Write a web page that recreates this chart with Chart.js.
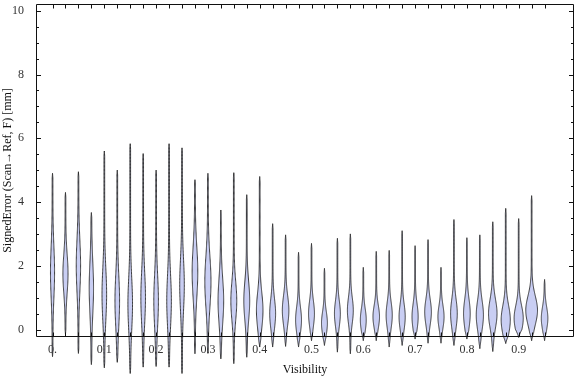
<!DOCTYPE html>
<html><head><meta charset="utf-8">
<script src="https://cdn.jsdelivr.net/npm/chart.js@4.4.0/dist/chart.umd.min.js"></script>
<style>html,body{margin:0;padding:0;background:#fff}canvas{display:block}</style>
</head><body>
<canvas id="c" width="576" height="377"></canvas>
<script>
// Visibility bins (violin positions)
const categories = [0,0.025,0.05,0.075,0.1,0.125,0.15,0.175,0.2,0.225,0.25,0.275,0.3,0.325,0.35,0.375,0.4,0.425,0.45,0.475,0.5,0.525,0.55,0.575,0.6,0.625,0.65,0.675,0.7,0.725,0.75,0.775,0.8,0.825,0.85,0.875,0.9,0.925,0.95];
// min of signed error per bin
const lows  = [-0.85,-0.15,-0.75,-1.1,-1.2,-1.03,-1.38,-1.18,-1.16,-1.18,-1.38,-0.76,-0.75,-0.92,-1.07,-0.87,-0.55,-0.55,-0.53,-0.55,-0.35,-0.5,-0.71,-0.76,-0.35,-0.35,-0.55,-0.5,-0.3,-0.43,-0.43,-0.5,-0.3,-0.6,-0.69,-0.44,-0.25,-0.35,-0.35];
// max of signed error per bin
const highs = [4.9,4.3,4.95,3.67,5.6,5.0,5.83,5.52,5.0,5.83,5.7,4.7,4.9,3.75,4.92,4.23,4.8,3.32,2.97,2.42,2.7,1.92,2.86,3.0,1.95,2.45,2.48,3.1,2.63,2.82,1.95,3.45,2.88,2.97,3.38,3.8,3.48,4.2,1.57];
// location of density peak
const modes = [1.8,1.75,2.0,1.3,1.1,0.9,0.8,1.0,0.9,0.9,1.4,1.8,1.5,0.9,0.9,0.9,0.6,0.5,0.6,0.3,0.5,0.2,0.5,0.6,0.3,0.4,0.45,0.4,0.4,0.55,0.4,0.5,0.5,0.45,0.5,0.3,0.35,0.6,0.35];
// spread of the main body
const spreads = [0.8,0.6,0.8,0.8,0.8,0.8,0.8,0.8,0.8,0.8,0.8,0.8,0.8,0.7,0.6,0.6,0.55,0.45,0.45,0.4,0.4,0.35,0.4,0.4,0.35,0.35,0.4,0.4,0.4,0.4,0.35,0.45,0.45,0.45,0.45,0.45,0.4,0.45,0.35];
// relative peak density
const peaks = [0.26,0.34,0.28,0.28,0.3,0.3,0.3,0.3,0.3,0.3,0.3,0.38,0.42,0.38,0.4,0.4,0.45,0.4,0.45,0.4,0.4,0.4,0.4,0.4,0.4,0.45,0.42,0.42,0.42,0.46,0.42,0.46,0.46,0.5,0.6,0.65,0.65,0.85,0.45];
const xTickValues = [0,0.1,0.2,0.3,0.4,0.5,0.6,0.7,0.8,0.9];
const yTickValues = [0,2,4,6,8,10];

const FONT = {family: "'Liberation Serif', 'Times New Roman', serif", size: 12};

const violinPlugin = {
  id: 'violins',
  afterDatasetsDraw(chart) {
    const ctx = chart.ctx, xs = chart.scales.x, ys = chart.scales.y;
    const halfSlot = 0.0125, tail = 0.0007;
    ctx.save();
    categories.forEach((c, i) => {
      const lo = lows[i], hi = highs[i], m = modes[i], s = spreads[i], p = peaks[i];
      const cx = xs.getPixelForValue(c);
      const N = 160, left = [], right = [];
      for (let k = 0; k <= N; k++) {
        const y = lo + (hi - lo) * k / N;
        const taper = Math.min(1, (y - lo) / 0.15, (hi - y) / 0.15);
        const g = Math.exp(-0.5 * Math.pow((y - m) / s, 2));
        const w = (p * halfSlot * g) * Math.min(1, (y - lo) / 0.25, (hi - y) / 0.25) + tail * taper;
        const dx = xs.getPixelForValue(c + w) - cx;
        const py = ys.getPixelForValue(y);
        left.push([cx - dx, py]);
        right.push([cx + dx, py]);
      }
      ctx.beginPath();
      left.forEach((pt, k) => k ? ctx.lineTo(pt[0], pt[1]) : ctx.moveTo(pt[0], pt[1]));
      for (let k = right.length - 1; k >= 0; k--) ctx.lineTo(right[k][0], right[k][1]);
      ctx.closePath();
      ctx.fillStyle = '#c9cef3';
      ctx.fill();
      ctx.lineWidth = 1;
      ctx.strokeStyle = 'rgba(30,30,30,0.85)';
      ctx.stroke();
    });
    ctx.restore();
  },
  afterDraw(chart) {
    const ctx = chart.ctx, a = chart.chartArea, xs = chart.scales.x, ys = chart.scales.y;
    ctx.save();
    ctx.strokeStyle = '#111';
    ctx.lineWidth = 1;
    const L = Math.round(a.left) + 0.5, R = Math.round(a.right) - 0.5, T = Math.round(a.top) + 0.5, B = Math.round(a.bottom) - 0.5;
    ctx.beginPath();
    ctx.rect(L, T, R - L, B - T);
    categories.forEach(c => {
      const x = Math.round(xs.getPixelForValue(c)) + 0.5;
      ctx.moveTo(x, B); ctx.lineTo(x, B - 4);
      ctx.moveTo(x, T); ctx.lineTo(x, T + 4);
    });
    for (let v = 0; v <= 10.001; v += 0.5) {
      const y = Math.round(ys.getPixelForValue(v)) + 0.5;
      const len = yTickValues.some(t => Math.abs(t - v) < 1e-6) ? 4.5 : 2.5;
      ctx.moveTo(L, y); ctx.lineTo(L + len, y);
      ctx.moveTo(R, y); ctx.lineTo(R - len, y);
    }
    ctx.stroke();
    ctx.restore();
  }
};

new Chart(document.getElementById('c'), {
  type: 'scatter',
  data: {datasets: [{data: categories.map((c, i) => ({x: c, y: highs[i]})), pointRadius: 0, showLine: false}]},
  options: {
    responsive: false,
    devicePixelRatio: 1,
    animation: false,
    layout: {padding: {top: 4, right: 2, left: 0, bottom: 0}},
    plugins: {legend: {display: false}, tooltip: {enabled: false}},
    scales: {
      x: {
        type: 'linear', min: -0.0319, max: 1.0068,
        grid: {display: false}, border: {display: false},
        afterBuildTicks: s => { s.ticks = xTickValues.map(v => ({value: v})); },
        afterFit: s => { s.height = 40; s.paddingLeft = 0; s.paddingRight = 0; },
        ticks: {font: FONT, color: '#333', padding: -2, maxRotation: 0, autoSkip: false,
          callback: v => v === 0 ? '0.' : v.toFixed(1)},
        title: {display: true, text: 'Visibility', font: FONT, color: '#111', padding: {top: 0, bottom: 0}}
      },
      y: {
        type: 'linear', min: -0.235, max: 10.213,
        grid: {display: false}, border: {display: false},
        afterBuildTicks: s => { s.ticks = yTickValues.map(v => ({value: v})); },
        afterFit: s => { s.width = 36; s.paddingTop = 0; s.paddingBottom = 0; },
        ticks: {font: FONT, color: '#333', padding: 4, callback: v => String(v)},
        title: {display: true, text: 'SignedError (Scan\u2192Ref, F) [mm]', font: FONT, color: '#111', padding: {top: 1, bottom: 0}}
      }
    }
  },
  plugins: [violinPlugin]
});
</script>
</body></html>
